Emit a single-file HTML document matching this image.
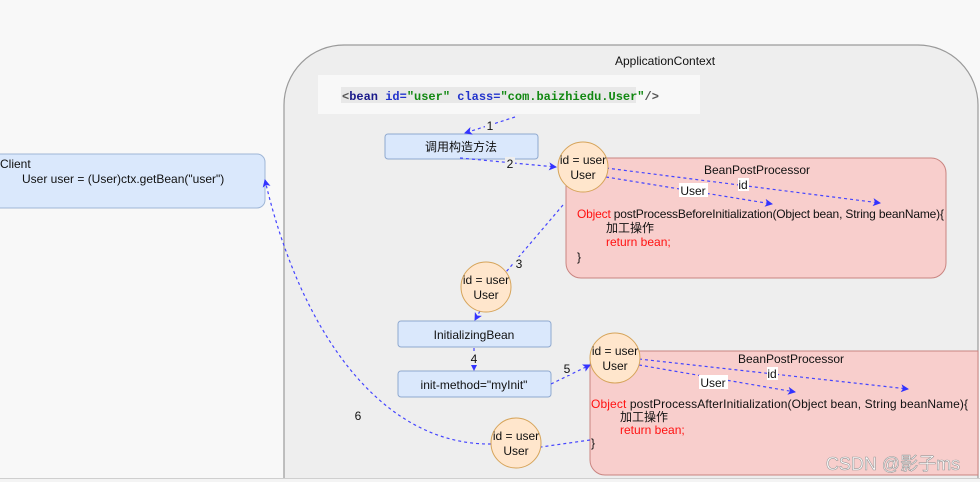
<!DOCTYPE html>
<html><head><meta charset="utf-8"><style>
html,body{margin:0;padding:0;background:#f8f8f8;width:980px;height:482px;overflow:hidden;}
svg{display:block;overflow:hidden;font-family:"Liberation Sans","Noto Sans CJK SC",sans-serif;}
.m{font-family:"Liberation Mono",monospace;font-weight:bold;font-size:12px;}
</style></head><body>
<svg width="980" height="482" viewBox="0 0 980 482" xmlns="http://www.w3.org/2000/svg">
<defs>
<marker id="a" markerWidth="8" markerHeight="8" refX="7" refY="4" orient="auto" markerUnits="userSpaceOnUse">
<path d="M0,0 L8,4 L0,8 L2,4z" fill="#3333ff"/></marker>
</defs>
<rect width="980" height="482" fill="#f8f8f8"/>
<path d="M284,482 L284,105 A60,60 0 0 1 344,45 L918,45 A60,60 0 0 1 978,105 L978,482 Z" fill="#eeeeee" stroke="#9a9a9a" stroke-width="1.2"/>
<rect x="0" y="478" width="980" height="4" fill="#f4f4f4"/>
<line x1="0" y1="478.5" x2="980" y2="478.5" stroke="#cfcfcf" stroke-width="1"/>
<text x="665" y="65" font-size="12" text-anchor="middle" fill="#111">ApplicationContext</text>
<rect x="318" y="75" width="382" height="39" fill="#f8f8f8"/>
<rect x="341" y="87" width="295" height="16" fill="#e8e8e8"/>
<text x="342" y="100" class="m"><tspan fill="#555">&lt;</tspan><tspan fill="#1a1a8a">bean </tspan><tspan fill="#2233cc">id=</tspan><tspan fill="#118811">"user"</tspan><tspan fill="#2233cc"> class=</tspan><tspan fill="#118811">"com.baizhiedu.User"</tspan><tspan fill="#555">/&gt;</tspan></text>
<path d="M0,154 L257,154 A8,8 0 0 1 265,162 L265,200 A8,8 0 0 1 257,208 L0,208" fill="#dae8fc" stroke="#9fb6d6"/>
<text x="0" y="168" font-size="12" fill="#111">Client</text>
<text x="22" y="183" font-size="12" fill="#111">User user = (User)ctx.getBean("user")</text>
<rect x="385" y="134" width="153" height="25" rx="3" fill="#dae8fc" stroke="#8fa9cf"/>
<text x="461" y="151" font-size="12" text-anchor="middle" fill="#111">调用构造方法</text>
<rect x="566" y="158" width="380" height="120" rx="15" fill="#f8cecc" stroke="#c98480"/>
<text x="757" y="174" font-size="12" text-anchor="middle" fill="#111">BeanPostProcessor</text>
<text x="577" y="218" font-size="12" fill="#111" textLength="367"><tspan fill="#ff1111">Object</tspan> postProcessBeforeInitialization(Object bean, String beanName){</text>
<text x="606" y="232" font-size="12" fill="#111">加工操作</text>
<text x="606" y="246" font-size="12" fill="#ff1111">return  bean;</text>
<text x="577" y="261" font-size="12" fill="#111">}</text>
<path d="M605,351 L978,351 L978,475 L605,475 A15,15 0 0 1 590,460 L590,366 A15,15 0 0 1 605,351 Z" fill="#f8cecc" stroke="#c98480"/>
<text x="791" y="363" font-size="12" text-anchor="middle" fill="#111">BeanPostProcessor</text>
<text x="591" y="408" font-size="12" fill="#111" textLength="377"><tspan fill="#ff1111">Object</tspan> postProcessAfterInitialization(Object bean, String beanName){</text>
<text x="620" y="421" font-size="12" fill="#111">加工操作</text>
<text x="620" y="434" font-size="12" fill="#ff1111">return  bean;</text>
<text x="591" y="447" font-size="12" fill="#111">}</text>
<rect x="398" y="321" width="153" height="26" rx="3" fill="#dae8fc" stroke="#8fa9cf"/>
<text x="474" y="339" font-size="12" text-anchor="middle" fill="#111">InitializingBean</text>
<rect x="398" y="371" width="153" height="26" rx="3" fill="#dae8fc" stroke="#8fa9cf"/>
<text x="474" y="389" font-size="12" text-anchor="middle" fill="#111">init-method="myInit"</text>
<g fill="none" stroke="#4444ff" stroke-width="1.2" stroke-dasharray="3,3">
<path d="M515,117 L465,133" marker-end="url(#a)"/>
<path d="M460,158 L556,167" marker-end="url(#a)"/>
<path d="M606,168 L880,203" marker-end="url(#a)"/>
<path d="M606,177 L772,204" marker-end="url(#a)"/>
<path d="M563,205 L506,272"/>
<path d="M480,311 L475,320" marker-end="url(#a)"/>
<path d="M474,348 L474,370" marker-end="url(#a)"/>
<path d="M551,384 L590,365" marker-end="url(#a)"/>
<path d="M639,359 L908,389" marker-end="url(#a)"/>
<path d="M639,365 L795,392" marker-end="url(#a)"/>
<path d="M590,440 L541,447"/>
<path d="M491,444 C380,445 300,330 265,180" marker-end="url(#a)"/>
</g>
<g font-size="12">
<rect x="485" y="119" width="10" height="13" fill="#eeeeee"/><text x="490" y="130" text-anchor="middle" fill="#111">1</text>
<rect x="505" y="157" width="10" height="13" fill="#eeeeee"/><text x="510" y="168" text-anchor="middle" fill="#111">2</text>
<rect x="514" y="257" width="10" height="13" fill="#eeeeee"/><text x="519" y="268" text-anchor="middle" fill="#111">3</text>
<rect x="469" y="352" width="10" height="13" fill="#eeeeee"/><text x="474" y="363" text-anchor="middle" fill="#111">4</text>
<rect x="562" y="362" width="10" height="13" fill="#eeeeee"/><text x="567" y="373" text-anchor="middle" fill="#111">5</text>
<text x="358" y="420" text-anchor="middle" fill="#111">6</text>
<rect x="738" y="178" width="11" height="13" fill="#ffffff"/><text x="743" y="189" text-anchor="middle" fill="#111">id</text>
<rect x="679" y="183" width="29" height="14" fill="#ffffff"/><text x="693" y="195" text-anchor="middle" fill="#111">User</text>
<rect x="767" y="367" width="11" height="13" fill="#ffffff"/><text x="772" y="378" text-anchor="middle" fill="#111">id</text>
<rect x="699" y="375" width="29" height="14" fill="#ffffff"/><text x="713" y="387" text-anchor="middle" fill="#111">User</text>
</g>
<g fill="#ffe6cc" stroke="#d6a45a" stroke-width="1">
<circle cx="583" cy="167" r="25"/>
<circle cx="486" cy="287" r="25"/>
<circle cx="615" cy="358" r="25"/>
<circle cx="516" cy="443" r="25"/>
</g>
<g font-size="12" text-anchor="middle" fill="#111">
<text x="583" y="164">id = user</text><text x="583" y="179">User</text>
<text x="486" y="284">id = user</text><text x="486" y="299">User</text>
<text x="615" y="355">id = user</text><text x="615" y="370">User</text>
<text x="516" y="440">id = user</text><text x="516" y="455">User</text>
</g>
<text x="893" y="470" font-size="18" text-anchor="middle" fill="#ffffff" stroke="#999999" stroke-width="0.6">CSDN @影子ms</text>
</svg>
</body></html>
